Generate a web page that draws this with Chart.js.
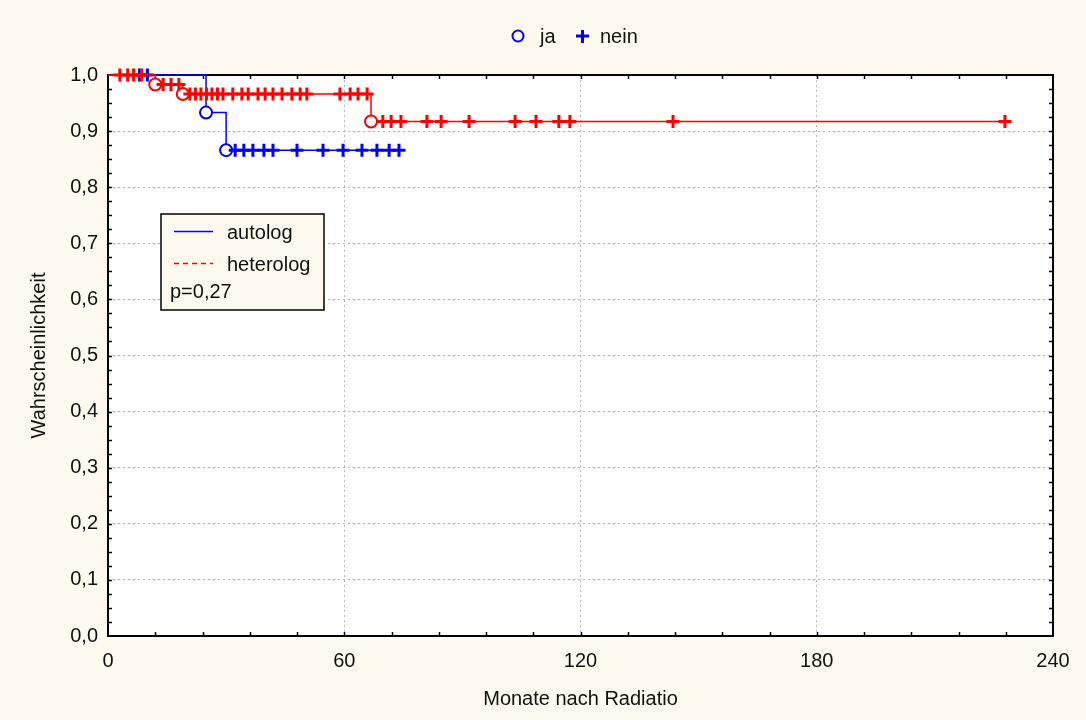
<!DOCTYPE html>
<html>
<head>
<meta charset="utf-8">
<script src="https://cdn.jsdelivr.net/npm/chart.js"></script>
<style>
  html, body { margin: 0; padding: 0; background: #fdf9ef; }
  #wrap { width: 1086px; height: 720px; }
</style>
</head>
<body>
<div id="wrap"><canvas id="km" width="1086" height="720"></canvas></div>
<script>
// Kaplan-Meier steps (months, survival)
var autologTimes = [0, 24.9, 30, 73.9];
var autologSurv = [1, 0.933, 0.866, 0.866];
var autologEvents = [24.9, 30];
var autologCensored = [8, 10, 32.3, 34.5, 36.8, 39.6, 41.9, 48.0, 54.6, 59.7, 64.5, 68.3, 71.4, 73.9];

var heteroTimes = [0, 12, 19, 66.8, 227.8];
var heteroSurv = [1, 0.983, 0.966, 0.917, 0.917];
var heteroEvents = [12, 19, 66.8];
var heteroCensored = [3, 5, 6.5, 8.5, 14, 16, 18,
    20.8, 22.2, 23.6, 25, 26.4, 27.8, 29.2, 31.7, 34, 35.6, 38.1, 39.9, 41.9, 44.2, 46.7, 48.8, 50.5, 58.9, 61.5, 63.5, 65.8,
    69.8, 71.9, 74.4, 81.0, 84.6, 91.7, 103.4, 108.7, 114.5, 117.3, 143.5, 227.8];

var xTicks = [0, 60, 120, 180, 240];
var yTickLabels = ['0,0', '0,1', '0,2', '0,3', '0,4', '0,5', '0,6', '0,7', '0,8', '0,9', '1,0'];
var pValue = 'p=0,27';

var FONT = 'Arial, "Liberation Sans", sans-serif';
var FS = 20;

// survival value at time t
function survAt(times, surv, t) {
    var s = surv[0];
    for (var i = 0; i < times.length; i++) {
        if (times[i] <= t) s = surv[i];
    }
    return s;
}

function stepPoints(times, surv) {
    return times.map(function (t, i) { return { x: t, y: surv[i] }; });
}

function markPoints(list, times, surv) {
    return list.map(function (t) { return { x: t, y: survAt(times, surv, t) }; });
}

// frame, inward ticks, legends
var framePlugin = {
    id: 'frame',
    beforeDraw: function (chart) {
        var ctx = chart.ctx, a = chart.chartArea;
        ctx.save();
        ctx.fillStyle = '#fdf9ef';
        ctx.fillRect(0, 0, chart.width, chart.height);
        ctx.fillStyle = '#ffffff';
        ctx.fillRect(a.left, a.top, a.right - a.left, a.bottom - a.top);
        ctx.restore();
    },
    beforeDatasetsDraw: function (chart) {
        var ctx = chart.ctx, a = chart.chartArea;
        var x = chart.scales.x, y = chart.scales.y;
        ctx.save();
        ctx.strokeStyle = '#000';
        ctx.lineWidth = 2;
        ctx.strokeRect(a.left, a.top, a.right - a.left, a.bottom - a.top);
        ctx.lineWidth = 1.5;
        ctx.beginPath();
        for (var m = 12; m < 240; m += 12) {
            var px = Math.round(x.getPixelForValue(m)) + 0.5;
            ctx.moveTo(px, a.bottom); ctx.lineTo(px, a.bottom - 4);
            ctx.moveTo(px, a.top); ctx.lineTo(px, a.top + 4);
        }
        for (var i = 1; i < 40; i++) {
            var py = Math.round(y.getPixelForValue(i * 0.025)) + 0.5;
            ctx.moveTo(a.left, py); ctx.lineTo(a.left + 4, py);
            ctx.moveTo(a.right, py); ctx.lineTo(a.right - 4, py);
        }
        ctx.stroke();
        ctx.restore();
    },
    afterDraw: function (chart) {
        var ctx = chart.ctx;
        ctx.save();
        // top legend: ja / nein
        ctx.strokeStyle = '#0000ff';
        ctx.lineWidth = 2;
        ctx.beginPath();
        ctx.arc(518, 36, 5.5, 0, Math.PI * 2);
        ctx.stroke();
        ctx.lineWidth = 3;
        ctx.beginPath();
        ctx.moveTo(576, 36); ctx.lineTo(589, 36);
        ctx.moveTo(582.5, 30); ctx.lineTo(582.5, 43);
        ctx.stroke();
        ctx.fillStyle = '#111';
        ctx.font = FS + 'px ' + FONT;
        ctx.textBaseline = 'middle';
        ctx.textAlign = 'left';
        ctx.fillText('ja', 540, 37);
        ctx.fillText('nein', 600, 37);

        // box legend
        ctx.fillStyle = '#fdf9ef';
        ctx.fillRect(161, 214, 163, 96);
        ctx.strokeStyle = '#000';
        ctx.lineWidth = 1.5;
        ctx.strokeRect(161, 214, 163, 96);
        ctx.strokeStyle = '#0000ff';
        ctx.beginPath(); ctx.moveTo(174, 231.5); ctx.lineTo(213, 231.5); ctx.stroke();
        ctx.strokeStyle = '#ff0000';
        ctx.setLineDash([5, 4]);
        ctx.beginPath(); ctx.moveTo(174, 263.5); ctx.lineTo(213, 263.5); ctx.stroke();
        ctx.setLineDash([]);
        ctx.fillStyle = '#111';
        ctx.fillText('autolog', 227, 233);
        ctx.fillText('heterolog', 227, 265);
        ctx.fillText(pValue, 170, 292);
        ctx.restore();
    }
};

var blue = '#0000ff', red = '#ff0000';

new Chart(document.getElementById('km'), {
    type: 'scatter',
    data: {
        datasets: [
            {
                label: 'heterolog nein', data: markPoints(heteroCensored, heteroTimes, heteroSurv),
                pointStyle: 'cross', pointRadius: 6.5, borderColor: red, borderWidth: 3, order: 1, clip: false
            },
            {
                label: 'heterolog ja', data: markPoints(heteroEvents, heteroTimes, heteroSurv),
                pointStyle: 'circle', pointRadius: 6, borderColor: red, backgroundColor: '#fff', borderWidth: 2, order: 2, clip: false
            },
            {
                label: 'heterolog', data: stepPoints(heteroTimes, heteroSurv), showLine: true, stepped: true,
                pointRadius: 0, borderColor: red, borderWidth: 1.5, order: 3, clip: false
            },
            {
                label: 'autolog nein', data: markPoints(autologCensored, autologTimes, autologSurv),
                pointStyle: 'cross', pointRadius: 6.5, borderColor: blue, borderWidth: 3, order: 4, clip: false
            },
            {
                label: 'autolog ja', data: markPoints(autologEvents, autologTimes, autologSurv),
                pointStyle: 'circle', pointRadius: 6, borderColor: blue, backgroundColor: '#fff', borderWidth: 2, order: 5, clip: false
            },
            {
                label: 'autolog', data: stepPoints(autologTimes, autologSurv), showLine: true, stepped: true,
                pointRadius: 0, borderColor: blue, borderWidth: 1.5, order: 6, clip: false
            }
        ]
    },
    options: {
        responsive: false,
        animation: false,
        events: [],
        layout: { padding: { top: 75, right: 33, left: 0, bottom: 0 } },
        plugins: { legend: { display: false }, tooltip: { enabled: false } },
        scales: {
            x: {
                type: 'linear', min: 0, max: 240,
                afterBuildTicks: function (s) { s.ticks = xTicks.map(function (v) { return { value: v }; }); },
                afterFit: function (s) { s.height = 84; },
                grid: { color: '#b8b8b8', lineWidth: 1, drawTicks: false },
                border: { display: false, dash: [2, 3] },
                ticks: { color: '#111', font: { family: FONT, size: FS }, padding: 13, maxRotation: 0 },
                title: { display: true, text: 'Monate nach Radiatio', color: '#111', font: { family: FONT, size: FS }, padding: { bottom: 9 } }
            },
            y: {
                type: 'linear', min: 0, max: 1,
                ticks: {
                    stepSize: 0.1, color: '#111', font: { family: FONT, size: FS }, padding: 10,
                    callback: function (v) { return yTickLabels[Math.round(v * 10)]; }
                },
                afterFit: function (s) { s.width = 108; },
                grid: { color: '#b8b8b8', lineWidth: 1, drawTicks: false },
                border: { display: false, dash: [2, 3] },
                title: { display: true, text: 'Wahrscheinlichkeit', color: '#111', font: { family: FONT, size: FS }, padding: { top: 27 } }
            }
        }
    },
    plugins: [framePlugin]
});
</script>
</body>
</html>
